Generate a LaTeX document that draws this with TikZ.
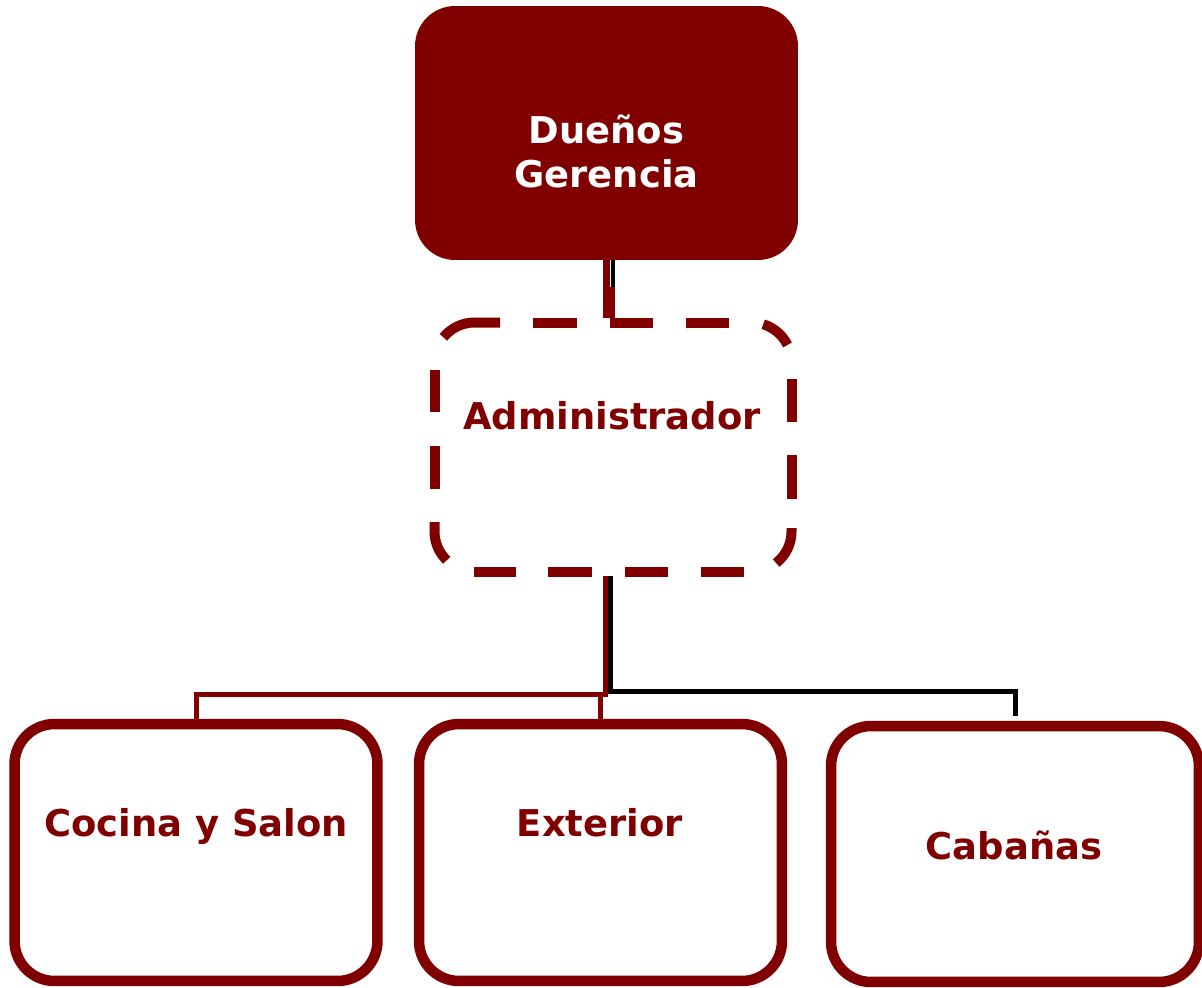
\documentclass[tikz,border=0pt]{standalone}
\usepackage{fontspec}
\setmainfont{DejaVu Sans}
\usetikzlibrary{positioning}
\definecolor{granate}{RGB}{128,0,0}

\begin{document}
\begin{tikzpicture}[x=0.02cm,y=-0.02cm,
	jefe/.style={rounded corners=0.8cm,fill=granate,minimum width=7.66cm,minimum height=5.08cm,inner sep=0pt},
	jefetexto/.style={font=\bfseries\fontsize{21}{25}\selectfont,text=white,align=center},
	admin/.style={line width=0.2cm,minimum width=7.14cm,minimum height=4.98cm,inner sep=0pt},
	borde/.style={draw=granate,line width=0.2cm},
	area/.style={rounded corners=0.8cm,draw=granate,line width=0.21cm,minimum height=5.14cm,inner sep=0pt},
	texto/.style={font=\bfseries\fontsize{21}{25}\selectfont,text=granate,anchor=base},
	rama/.style={line width=0.1cm}]
	\useasboundingbox (0,0) rectangle (1202,987);

	% draw the boxes
	\node[jefe] (duenos) at (606.5,133) {};
	\node[admin] (admin) at (613,447) {};
	\node[area,minimum width=7.26cm] (cocina) at (196,852.5) {};
	\node[area,minimum width=7.26cm] (exterior) at (600.5,852.5) {};
	\node[area,minimum width=7.36cm,minimum height=5.12cm] (cabanas) at (1015,854) {};

	% dashed border of the administrator box
	\foreach \a/\b in {533/577,610/653,686/729}
		\draw[borde] (\a,322.5) -- (\b,322.5);
	\foreach \a/\b in {474/516,548/592,625/668,701/744}
		\draw[borde] (\a,571.5) -- (\b,571.5);
	\foreach \a/\b in {370/412,446/489}
		\draw[borde] (434.5,\a) -- (434.5,\b);
	\foreach \a/\b in {379/422,455/499}
		\draw[borde] (791.5,\a) -- (791.5,\b);
	% the corners
	\draw[borde] ([shift={(141:0.8cm)}]474.5,362.5) arc[start angle=141,end angle=90,radius=0.8cm] -- (500,322.5);
	\draw[borde] ([shift={(73:0.8cm)}]751.5,362.5) arc[start angle=73,end angle=26,radius=0.8cm];
	\draw[borde] (434.5,522) -- (434.5,531.5) arc[start angle=180,end angle=226,radius=0.8cm];
	\draw[borde] ([shift={(-52:0.8cm)}]751.5,531.5) arc[start angle=-52,end angle=0,radius=0.8cm] -- (791.5,528);

	% draw the texts
	\node[jefetexto] (duenostxt) at (606.5,151) {Dueños\\Gerencia};
	\node[texto] (admintxt) at (612,429) {Administrador};
	\node[texto] (cocinatxt) at (196,836) {Cocina y Salon};
	\node[texto] (exteriortxt) at (600,836) {Exterior};
	\node[texto] (cabanastxt) at (1014,859) {Cabañas};

	% lines between the boxes
	\coordinate (codo) at (612.5,287);
	\draw[line width=0.08cm,black] (duenos.south -| codo) -- (codo);
	\draw[line width=0.14cm,granate] (duenos.south) -- (admin.north -| duenos.south);
	\draw[rama,granate] (codo) -- (admin.north -| codo);
	\draw[rama,black] ([xshift=-0.06cm]admin.south) |- ([yshift=0.59cm]cabanas.north) -- ([yshift=0.1cm]cabanas.north);
	\draw[rama,granate] ([xshift=-0.16cm]admin.south) |- ([yshift=0.49cm]cocina.north) -- (cocina.north);
	\draw[rama,granate] ([xshift=-0.16cm,yshift=-2.37cm]admin.south) -| (exterior.north);
\end{tikzpicture}
\end{document}
